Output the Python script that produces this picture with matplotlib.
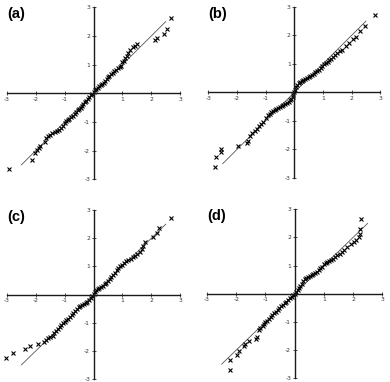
import matplotlib
matplotlib.use("Agg")
import matplotlib.pyplot as plt

# normal Q-Q plots, theoretical quantile (x) vs standardised sample (y)
a_x = [-2.93, -2.12, -2.02, -1.95, -1.90, -1.85, -1.70, -1.64, -1.57, -1.50,
       -1.43, -1.35, -1.28, -1.20, -1.12, -1.05, -1.0, -0.95, -0.90, -0.84,
       -0.78, -0.72, -0.66, -0.60, -0.55, -0.50, -0.45, -0.40, -0.35, -0.30,
       -0.25, -0.20, -0.15, -0.10, -0.05, 0.0, 0.05, 0.10, 0.15, 0.20,
       0.25, 0.30, 0.35, 0.40, 0.45, 0.50, 0.55, 0.60, 0.66, 0.72,
       0.78, 0.84, 0.90, 0.95, 1.0, 1.05, 1.10, 1.15, 1.20, 1.25,
       1.35, 1.42, 1.50, 2.12, 2.18, 2.45, 2.55, 2.68]
a_y = [-2.66, -2.32, -2.10, -1.98, -1.90, -1.84, -1.70, -1.58, -1.48, -1.45,
       -1.40, -1.36, -1.32, -1.28, -1.22, -1.16, -1.05, -0.98, -0.95, -0.90,
       -0.84, -0.78, -0.72, -0.66, -0.60, -0.55, -0.50, -0.44, -0.38, -0.32,
       -0.26, -0.20, -0.14, -0.08, -0.03, 0.05, 0.12, 0.16, 0.19, 0.24,
       0.28, 0.32, 0.37, 0.42, 0.50, 0.56, 0.60, 0.66, 0.72, 0.77,
       0.82, 0.87, 0.90, 0.95, 1.08, 1.14, 1.22, 1.30, 1.40, 1.50,
       1.60, 1.66, 1.72, 1.84, 1.92, 2.08, 2.24, 2.62]

b_x = [-2.75, -2.73, -2.54, -2.54, -1.96, -1.66, -1.60, -1.53, -1.46, -1.38,
       -1.30, -1.22, -1.15, -1.08, -1.0, -0.93, -0.86, -0.80, -0.74, -0.68,
       -0.62, -0.56, -0.50, -0.44, -0.38, -0.32, -0.26, -0.20, -0.15, -0.10,
       -0.06, -0.03, 0.0, 0.03, 0.06, 0.10, 0.15, 0.20, 0.26, 0.32,
       0.38, 0.44, 0.50, 0.56, 0.62, 0.68, 0.74, 0.80, 0.86, 0.92,
       0.98, 1.04, 1.10, 1.16, 1.22, 1.28, 1.34, 1.42, 1.50, 1.58,
       1.66, 1.82, 1.90, 2.05, 2.15, 2.28, 2.46, 2.81]
b_y = [-2.62, -2.27, -2.10, -1.98, -1.87, -1.78, -1.69, -1.52, -1.42, -1.35,
       -1.28, -1.18, -1.10, -1.02, -0.90, -0.80, -0.74, -0.68, -0.64, -0.61,
       -0.58, -0.55, -0.51, -0.48, -0.44, -0.41, -0.37, -0.33, -0.28, -0.22,
       -0.16, -0.08, 0.0, 0.10, 0.18, 0.26, 0.32, 0.36, 0.39, 0.43,
       0.46, 0.50, 0.54, 0.58, 0.62, 0.66, 0.71, 0.76, 0.80, 0.86,
       0.92, 0.98, 1.03, 1.08, 1.13, 1.18, 1.24, 1.30, 1.38, 1.44,
       1.50, 1.64, 1.72, 1.86, 1.96, 2.14, 2.34, 2.70]

c_x = [-3.04, -2.78, -2.37, -2.21, -1.94, -1.72, -1.66, -1.58, -1.50, -1.42,
       -1.36, -1.30, -1.24, -1.18, -1.12, -1.06, -1.0, -0.94, -0.88, -0.82,
       -0.76, -0.70, -0.64, -0.58, -0.52, -0.46, -0.40, -0.34, -0.28, -0.22,
       -0.16, -0.10, -0.05, 0.0, 0.05, 0.10, 0.15, 0.20, 0.26, 0.32,
       0.38, 0.44, 0.50, 0.56, 0.62, 0.68, 0.74, 0.80, 0.86, 0.92,
       0.98, 1.04, 1.12, 1.20, 1.28, 1.36, 1.44, 1.52, 1.60, 1.66,
       1.72, 1.78, 2.05, 2.19, 2.26, 2.69]
c_y = [-2.27, -2.07, -1.93, -1.83, -1.76, -1.67, -1.61, -1.54, -1.50, -1.46,
       -1.38, -1.30, -1.22, -1.14, -1.07, -1.00, -0.96, -0.92, -0.86, -0.79,
       -0.73, -0.66, -0.60, -0.53, -0.46, -0.41, -0.37, -0.33, -0.29, -0.25,
       -0.20, -0.13, -0.05, 0.03, 0.10, 0.16, 0.19, 0.22, 0.26, 0.30,
       0.36, 0.42, 0.48, 0.55, 0.62, 0.70, 0.78, 0.86, 0.94, 1.00,
       1.06, 1.12, 1.18, 1.22, 1.27, 1.32, 1.38, 1.44, 1.52, 1.62,
       1.74, 1.88, 2.06, 2.20, 2.38, 2.73]

d_x = [-2.20, -2.20, -1.98, -1.92, -1.74, -1.69, -1.58, -1.32, -1.29, -1.23,
       -1.17, -1.10, -1.05, -1.0, -0.94, -0.88, -0.82, -0.76, -0.70, -0.64,
       -0.58, -0.52, -0.46, -0.40, -0.34, -0.28, -0.22, -0.16, -0.10, -0.05,
       0.0, 0.05, 0.10, 0.15, 0.20, 0.25, 0.30, 0.35, 0.40, 0.46,
       0.52, 0.58, 0.64, 0.70, 0.76, 0.82, 0.88, 0.94, 1.0, 1.06,
       1.12, 1.18, 1.24, 1.30, 1.38, 1.46, 1.54, 1.62, 1.70, 1.80,
       1.92, 2.02, 2.09, 2.21, 2.24, 2.24, 2.26]
d_y = [-2.70, -2.34, -2.16, -2.04, -1.85, -1.80, -1.69, -1.62, -1.55, -1.30,
       -1.20, -1.14, -1.08, -1.02, -0.96, -0.88, -0.82, -0.75, -0.70, -0.64,
       -0.57, -0.51, -0.45, -0.39, -0.34, -0.28, -0.22, -0.16, -0.10, -0.05,
       0.0, 0.06, 0.12, 0.20, 0.28, 0.36, 0.44, 0.52, 0.57, 0.60,
       0.63, 0.66, 0.70, 0.74, 0.79, 0.84, 0.90, 0.96, 1.04, 1.08,
       1.12, 1.16, 1.19, 1.24, 1.30, 1.36, 1.42, 1.48, 1.55, 1.65,
       1.76, 1.85, 1.90, 2.00, 2.14, 2.30, 2.64]

ref_line = [-2.5, 2.5]
ticks = [-3, -2, -1, 0, 1, 2, 3]
tick_labels = ["-3", "-2", "-1", "", "1", "2", "3"]
panel_names = ["(a)", "(b)", "(c)", "(d)"]

# axes boxes in figure fractions
boxes = [
    [0.018, 0.531, 0.444, 0.450],
    [0.534, 0.534, 0.441, 0.448],
    [0.018, 0.008, 0.444, 0.442],
    [0.531, 0.010, 0.449, 0.442],
]
panels = [(a_x, a_y), (b_x, b_y), (c_x, c_y), (d_x, d_y)]

fig = plt.figure(figsize=(3.9, 3.82), dpi=100)

for box, (xs, ys), name in zip(boxes, panels, panel_names):
    ax = fig.add_axes(box)
    ax.set_xlim(-3, 3)
    ax.set_ylim(-3, 3)
    for side in ["top", "right"]:
        ax.spines[side].set_visible(False)
    for side in ["left", "bottom"]:
        ax.spines[side].set_position("zero")
        ax.spines[side].set_linewidth(1.0)
        ax.spines[side].set_color("#1a1a1a")
    ax.set_xticks(ticks)
    ax.set_yticks(ticks)
    ax.set_xticklabels(tick_labels)
    ax.set_yticklabels(tick_labels)
    ax.tick_params(direction="inout", length=3, width=0.6, labelsize=4.3,
                   pad=1, colors="#333333")
    ax.plot(ref_line, ref_line, color="#555555", lw=0.6)
    ax.plot(xs, ys, ls="none", marker="x", ms=3.2, mew=0.8, color="black",
            clip_on=False)
    ax.text(0.0, 1.0, name, transform=ax.transAxes, ha="left", va="top",
            fontsize=10.5, fontweight="bold", family="Liberation Sans")
    ax.set_facecolor("none")

fig.savefig("out.png", dpi=100)
